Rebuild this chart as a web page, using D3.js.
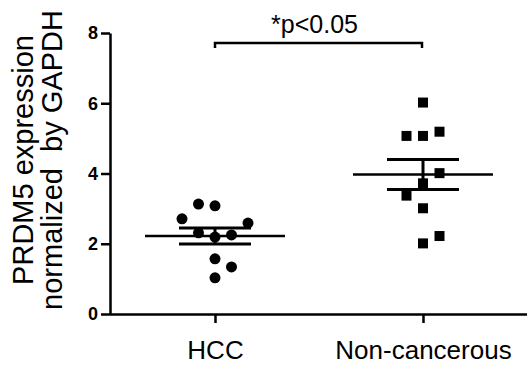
<!DOCTYPE html>
<meta charset="utf-8">
<html>
<head>
    <title>PRDM5 expression scatter</title>
    <script src="https://cdn.jsdelivr.net/npm/d3@7"></script>
</head>
<style>
    body{ margin:0; background:#fff; }
    svg{ width:527px; height:367px; display:block; }
    text{ font-family: "Liberation Sans", Arial, sans-serif; fill:#000; }
    .axis path, .axis line{ stroke:#000; stroke-width:2.5px; }
    .ytick text{ font-size:18px; font-weight:bold; }
    .xtick text{ font-size:26px; }
</style>
<body>
<svg></svg>
<script>
    // groups and values
    const categories = ["HCC", "Non-cancerous"];
    const hccValues  = [3.13, 3.08, 2.71, 2.59, 2.31, 2.19, 2.25, 1.57, 1.34, 1.03];
    const hccSlot    = [-1, 0, -2, 2, -1, 0, 1, 0, 1, 0];
    const ncValues   = [6.02, 5.07, 5.07, 5.19, 4.01, 3.72, 3.37, 3.01, 2.01, 2.22];
    const ncSlot     = [0, -1, 0, 1, 1, 0, -1, 0, 0, 1];
    const yTicks     = [0, 2, 4, 6, 8];
    const yLabel     = ["PRDM5 expression", "normalized  by GAPDH"];
    const sigText    = "*p<0.05";

    const svg = d3.select("svg");
    const mLeft = 110, mRight = 527, mTop = 33, mBottom = 314;

    const y = d3.scaleLinear().domain([0, 8]).range([mBottom, mTop]);
    const x = d3.scalePoint().domain(categories).range([mLeft + 1, mRight]).padding(0.5);
    const slotW = 16.5;

    // axes
    svg.append("g").attr("class", "axis ytick")
        .attr("transform", `translate(${mLeft},0)`)
        .call(d3.axisLeft(y).tickValues(yTicks).tickSize(9).tickPadding(3).tickSizeOuter(0));
    svg.append("g").attr("class", "axis xtick")
        .attr("transform", `translate(0,${mBottom})`)
        .call(d3.axisBottom(x).tickSize(9).tickPadding(18).tickSizeOuter(0));
    svg.selectAll(".xtick path").attr("d", `M${mLeft},0.5H${mRight}`);

    // y label
    const yl = svg.append("text")
        .attr("transform", "translate(0,160) rotate(-90)")
        .attr("text-anchor", "middle")
        .style("font-size", "29px")
        .style("white-space", "pre");
    yl.append("tspan").attr("x", 0).attr("y", 33).text(yLabel[0]);
    yl.append("tspan").attr("x", 0).attr("y", 62).text(yLabel[1]);

    const groups = [
        {cat: categories[0], values: hccValues, slots: hccSlot, shape: "circle"},
        {cat: categories[1], values: ncValues, slots: ncSlot, shape: "square"}
    ];

    groups.forEach(g => {
        const cx = x(g.cat);
        const pts = g.values.map((v, i) => ({v: v, s: g.slots[i]}));
        if (g.shape === "circle") {
            svg.append("g").selectAll("circle").data(pts).join("circle")
                .attr("cx", d => cx + d.s * slotW)
                .attr("cy", d => y(d.v))
                .attr("r", 5.5)
                .attr("fill", "#000");
        } else {
            svg.append("g").selectAll("rect").data(pts).join("rect")
                .attr("x", d => cx + d.s * slotW - 5)
                .attr("y", d => y(d.v) - 5)
                .attr("width", 10).attr("height", 10)
                .attr("fill", "#000");
        }
        // mean and SEM
        const m = d3.mean(g.values);
        const sem = d3.deviation(g.values) / Math.sqrt(g.values.length);
        const stat = svg.append("g").attr("stroke", "#000").attr("fill", "none");
        stat.append("line").attr("x1", cx - 70).attr("x2", cx + 70)
            .attr("y1", y(m)).attr("y2", y(m)).attr("stroke-width", 2.5);
        stat.append("line").attr("x1", cx).attr("x2", cx)
            .attr("y1", y(m + sem)).attr("y2", y(m - sem)).attr("stroke-width", 3);
        [m + sem, m - sem].forEach(v => {
            stat.append("line").attr("x1", cx - 36).attr("x2", cx + 36)
                .attr("y1", y(v)).attr("y2", y(v)).attr("stroke-width", 3);
        });
    });

    // significance bracket
    const x1 = x(categories[0]), x2 = x(categories[1]) - 1;
    svg.append("path")
        .attr("d", `M${x1},48V43H${x2}V48`)
        .attr("fill", "none").attr("stroke", "#000").attr("stroke-width", 2.5);
    svg.append("text")
        .attr("x", (x1 + x2) / 2 - 4).attr("y", 33)
        .attr("text-anchor", "middle")
        .style("font-size", "25px")
        .text(sigText);
</script>
</body>
</html>
